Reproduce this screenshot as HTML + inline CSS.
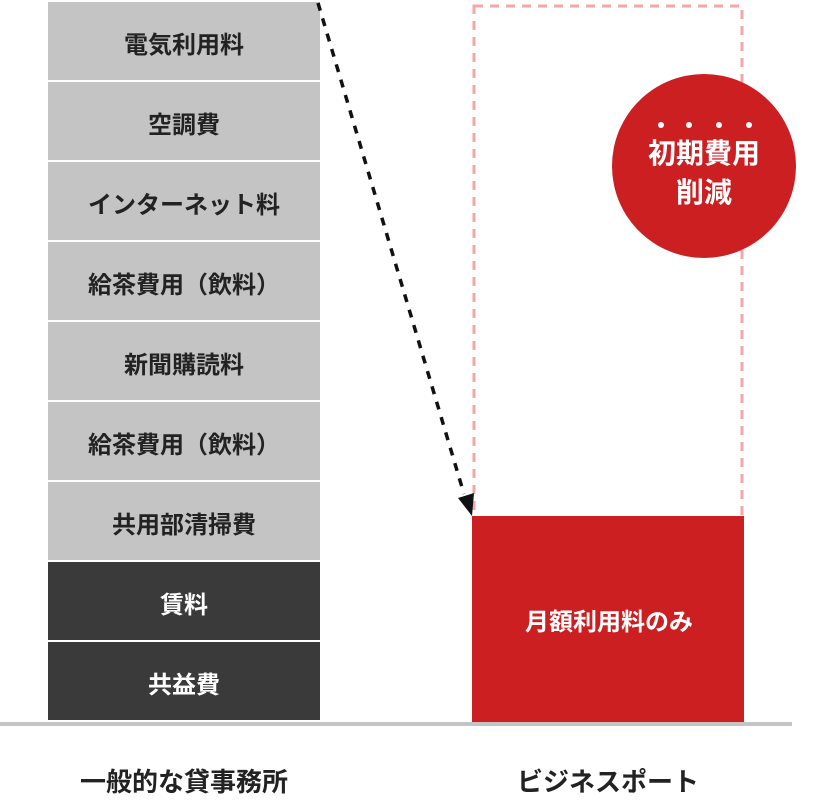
<!DOCTYPE html>
<html><head><meta charset="utf-8"><style>
html,body{margin:0;padding:0;background:#fff;}
body{width:820px;height:800px;position:relative;overflow:hidden;font-family:"Liberation Sans","Noto Sans CJK JP",sans-serif;font-weight:bold;}
.r{position:absolute;left:48px;width:272px;height:78px;display:flex;align-items:center;justify-content:center;font-size:24px;color:#222;background:#c4c4c4;padding-top:3px;box-sizing:border-box;}
.d{background:#3a3a3a;color:#fff;}
.lbl{position:absolute;top:762px;font-size:26px;color:#222;text-align:center;width:300px;}
</style></head><body>
<div class="r" style="top:2px">電気利用料</div>
<div class="r" style="top:82px">空調費</div>
<div class="r" style="top:162px">インターネット料</div>
<div class="r" style="top:242px">給茶費用（飲料）</div>
<div class="r" style="top:322px">新聞購読料</div>
<div class="r" style="top:402px">給茶費用（飲料）</div>
<div class="r" style="top:482px">共用部清掃費</div>
<div class="r d" style="top:562px">賃料</div>
<div class="r d" style="top:642px">共益費</div>
<svg width="820" height="800" style="position:absolute;left:0;top:0">
<rect x="474" y="6" width="268" height="520" fill="none" stroke="#f6a5a8" stroke-width="3" stroke-dasharray="9,7"/>
<rect x="472" y="516" width="272" height="208" fill="#cc1f22"/>
<rect x="0" y="722" width="792" height="4" fill="#c4c4c4"/>
<line x1="318" y1="3" x2="464" y2="494" stroke="#111" stroke-width="3.5" stroke-dasharray="8,8"/>
<polygon points="472,516 458,498 474,493" fill="#111"/>
<circle cx="704" cy="166" r="92" fill="#cc1f22"/>
<circle cx="661" cy="125" r="3" fill="#fff"/><circle cx="689" cy="125" r="3" fill="#fff"/>
<circle cx="719" cy="125" r="3" fill="#fff"/><circle cx="749" cy="125" r="3" fill="#fff"/>
<text x="704" y="163" fill="#fff" font-size="28" font-weight="bold" text-anchor="middle" font-family="Liberation Sans,Noto Sans CJK JP,sans-serif">初期費用</text>
<text x="704" y="202" fill="#fff" font-size="28" font-weight="bold" text-anchor="middle" font-family="Liberation Sans,Noto Sans CJK JP,sans-serif">削減</text>
<text x="609" y="630" fill="#fff" font-size="24" font-weight="bold" text-anchor="middle" font-family="Liberation Sans,Noto Sans CJK JP,sans-serif">月額利用料のみ</text>
</svg>
<div class="lbl" style="left:34px">一般的な貸事務所</div>
<div class="lbl" style="left:458px">ビジネスポート</div>
</body></html>
